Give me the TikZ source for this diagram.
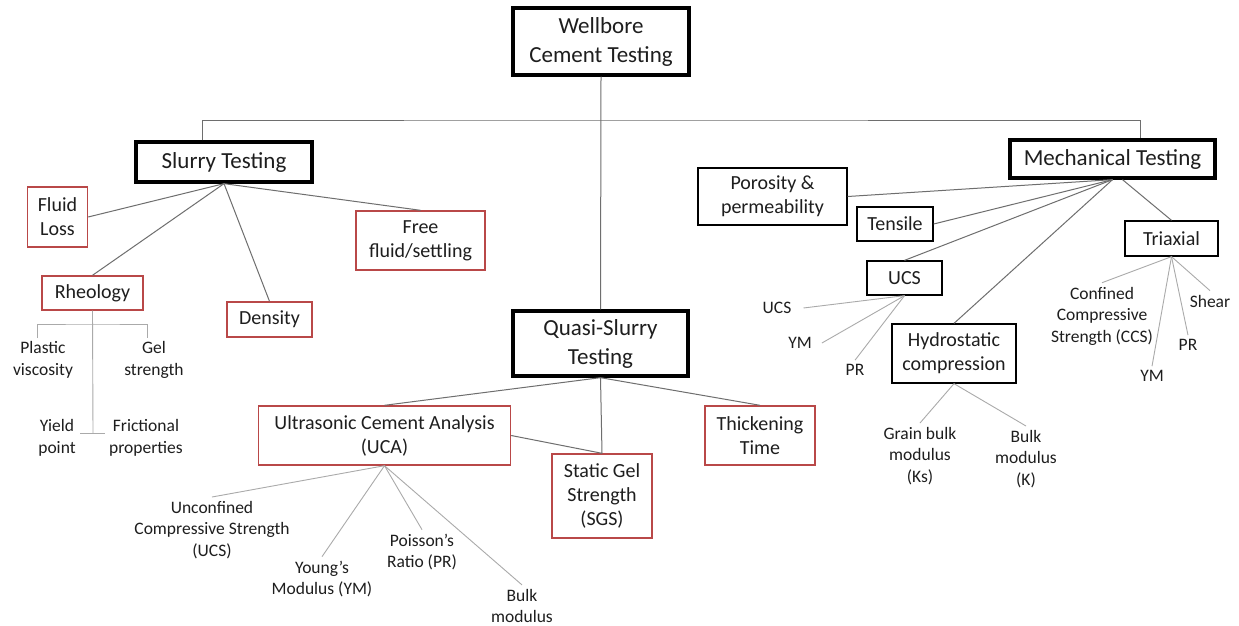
\documentclass[tikz,border=0pt]{standalone}
\usepackage{fontspec}
\setmainfont{Carlito}
\usepackage{xcolor}
\definecolor{boxred}{RGB}{185, 72, 72}
\definecolor{linegray}{RGB}{110, 110, 110}
\definecolor{twiggray}{RGB}{170, 170, 170}
\definecolor{inkgray}{RGB}{30, 30, 30}
\usetikzlibrary{positioning}

\tikzset{
  main/.style={draw=black,line width=3.3pt,fill=white,align=center,inner sep=0pt,
    text=inkgray,font=\fontsize{23}{29}\selectfont},
  test/.style={draw=boxred,line width=1.4pt,fill=white,align=center,inner sep=0pt,
    text=inkgray,font=\fontsize{20}{24}\selectfont},
  mech/.style={draw=black,line width=1.3pt,fill=white,align=center,inner sep=0pt,
    text=inkgray,font=\fontsize{20}{24}\selectfont},
  leaf/.style={align=center,inner sep=4pt,text=inkgray,
    font=\fontsize{17.5}{21.5}\selectfont},
  link/.style={draw=linegray,line width=1pt},
  twig/.style={draw=twiggray,line width=0.9pt}
}

\begin{document}
\begin{tikzpicture}[x=1pt,y=-1pt]
  \fill[white] (0,0) rectangle (1239,626);
  \useasboundingbox (0,0) rectangle (1239,626);

  % top levels
  \node[main,minimum width=176,minimum height=67] (well) at (601,41.5) {Wellbore\\Cement Testing};
  \node[main,minimum width=176,minimum height=40] (slurry) at (224,162) {Slurry Testing};
  \node[main,minimum width=205,minimum height=38] (mech) at (1112.5,159) {Mechanical Testing};
  \node[main,minimum width=175,minimum height=65] (quasi) at (600.5,343.5) {Quasi-Slurry\\Testing};

  % slurry tests
  \node[test,minimum width=60,minimum height=60] (fluid) at (57.5,217) {Fluid\\Loss};
  \node[test,minimum width=101,minimum height=34] (rheo) at (92.5,293) {Rheology};
  \node[test,minimum width=85,minimum height=35] (dens) at (269.5,319.5) {Density};
  \node[test,minimum width=129,minimum height=59] (free) at (420.5,240.5) {Free\\fluid/settling};

  % quasi-slurry tests
  \node[test,minimum width=252,minimum height=59] (uca) at (384.5,435.5) {Ultrasonic Cement Analysis\\(UCA)};
  \node[test,minimum width=100,minimum height=84] (sgs) at (602,496) {Static Gel\\Strength\\(SGS)};
  \node[test,minimum width=110,minimum height=59] (thick) at (760,435.5) {Thickening\\Time};

  % mechanical tests
  \node[mech,minimum width=149,minimum height=57] (poro) at (772.5,196.5) {Porosity \&\\permeability};
  \node[mech,minimum width=76,minimum height=34] (tens) at (895,224) {Tensile};
  \node[mech,minimum width=75,minimum height=34] (ucsb) at (904.5,278) {UCS};
  \node[mech,minimum width=93,minimum height=35] (triax) at (1171.5,238.5) {Triaxial};
  \node[mech,minimum width=124,minimum height=59] (hydro) at (954,353.5) {Hydrostatic\\compression};

  % leaves
  \node[leaf] (pv) at (43,360) {Plastic\\viscosity};
  \node[leaf] (gs) at (154,360) {Gel\\strength};
  \node[leaf] (yp) at (57,438) {Yield\\point};
  \node[leaf] (fp) at (146,438) {Frictional\\properties};
  \node[leaf] (uucs) at (212,530) {Unconfined\\Compressive Strength\\(UCS)};
  \node[leaf] (uym) at (322,579) {Young’s\\Modulus (YM)};
  \node[leaf] (upr) at (422,552) {Poisson’s\\Ratio (PR)};
  \node[leaf] (ubulk) at (522,606) {Bulk\\modulus};
  \node[leaf] (cucs) at (777,308) {UCS};
  \node[leaf] (cym) at (800,343) {YM};
  \node[leaf] (cpr) at (855,370) {PR};
  \node[leaf] (tccs) at (1102,316) {Confined\\Compressive\\Strength (CCS)};
  \node[leaf] (tshear) at (1210,301) {Shear};
  \node[leaf] (tpr) at (1188,345) {PR};
  \node[leaf] (tym) at (1152,376) {YM};
  \node[leaf] (hks) at (920,456) {Grain bulk\\modulus\\(Ks)};
  \node[leaf] (hk) at (1026,459) {Bulk\\modulus\\(K)};

  % tree
  \coordinate (bar) at (601,120);
  \draw[link] (well.south) -- (quasi.north);
  \draw[link] ([xshift=-22]slurry.north) |- (bar) -| ([xshift=28]mech.north);

  \foreach \t in {fluid.east,rheo.north,dens.north,free.north}
    \draw[link] (slurry.south) -- (\t);
  \foreach \t in {uca.north,sgs.north,thick.north}
    \draw[link] (quasi.south) -- (\t);
  \draw[link] (uca.east) -- (sgs.north);
  \foreach \t in {poro.east,tens.east,ucsb.north,hydro.north}
    \draw[link] (mech.south) -- (\t);
  \draw[link] ([xshift=10]mech.south) -- (triax.north);

  % rheology bracket
  \coordinate (rbar) at (93,324);
  \coordinate (rleft) at (37,338);
  \coordinate (rright) at (147,338);
  \coordinate (rbot) at (93,433);
  \draw[twig] (rheo.south) -- (rbot);
  \draw[twig] (rleft) |- (rbar) -| (rright);
  \draw[twig] ([xshift=-13]rbot) -- ([xshift=12]rbot);

  % measured values
  \foreach \t in {uucs,uym,upr,ubulk}
    \draw[twig] (uca.south) -- (\t.north);
  \draw[twig] (ucsb.south) -- ([xshift=8]cucs.east);
  \draw[twig] (ucsb.south) -- ([xshift=6]cym.east);
  \draw[twig] (ucsb.south) -- (cpr.north);
  \foreach \t in {tccs,tshear,tpr,tym}
    \draw[twig] (triax.south) -- (\t.north);
  \foreach \t in {hks,hk}
    \draw[twig] (hydro.south) -- (\t.north);
\end{tikzpicture}
\end{document}
